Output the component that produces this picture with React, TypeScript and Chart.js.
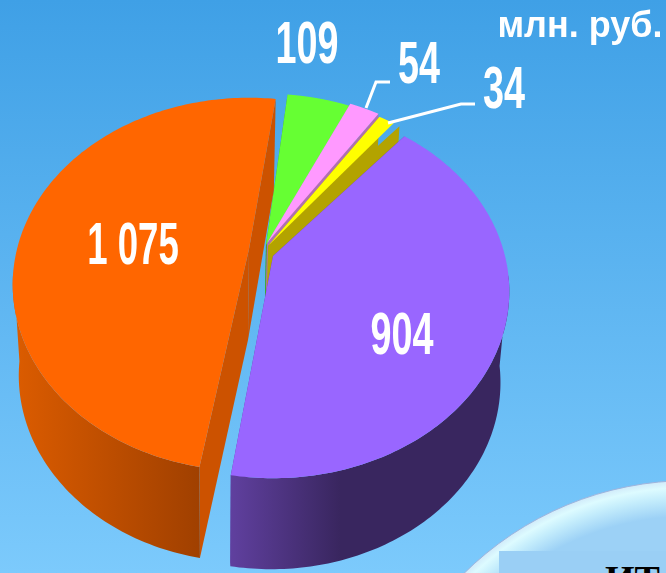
import React, { useEffect, useRef } from "react";
import { Chart, registerables } from "chart.js";

Chart.register(...registerables);

const categories = ["A", "B", "C", "D", "E"];
const values = [1075, 109, 54, 34, 904];
const valueLabels = ["1 075", "109", "54", "34", "904"];
const unitLabel = "млн. руб.";
const totalLabel = "ИТ";

const topColors = ["#FF6600", "#66FF33", "#FF99FF", "#FFFF00", "#9966FF"];
const cutColors = ["#CC5200", "#3FA526", "#B070B0", "#B3A300", "#5F3D9E"];
const rimStops = [
  ["#DC5C00", "#A04000"],
  ["#3FA526", "#3FA526"],
  ["#B070B0", "#B070B0"],
  ["#B3A300", "#B3A300"],
  ["#60409F", "#39265F"],
];
const centers = [
  [249, 249],
  [266, 245],
  [267, 243],
  [268, 246],
  [273, 256],
];
const sideTweak = [[0, 0], [-1.5, -1], [-1, -1], [-1, 0], [0, -1.5]];
const topTweak = [[0, 0], [-1.5, -1], [-1, -1], [-1, -2], [0, -1.5]];
const labelPos = [
  [133, 264],
  [307, 63],
  [419, 83],
  [504, 108],
  [402, 354],
];
const labelScale = [0.62, 0.64, 0.64, 0.64, 0.64];
const R = 232, A = 180, K = 0.19, DEPTH = 91, VX = 215, SHRINK = 0.97;
const RAD = Math.PI / 180;

const project = (c: number[], a: number) => {
  const u = Math.cos(a), v = Math.sin(a), d = 1 - K * v;
  return [c[0] + (R * u) / d, c[1] + (A * v) / d];
};
const lower = (p: number[]) => [VX + (p[0] - VX) * SHRINK, p[1] + DEPTH];

const pie3d = {
  id: "pie3d",
  beforeDatasetDraw(chart: any) {
    const ctx = chart.ctx;
    const arcs = chart.getDatasetMeta(0).data;
    const poly = (pts: number[][], fill: any) => {
      ctx.beginPath();
      pts.forEach((p, i) => (i ? ctx.lineTo(p[0], p[1]) : ctx.moveTo(p[0], p[1])));
      ctx.closePath();
      ctx.fillStyle = fill;
      ctx.fill();
    };
    const angles = (i: number, tw: number[][]) => {
      const a0 = arcs[i].startAngle + tw[i][0] * RAD;
      const a1 = arcs[i].endAngle + tw[i][1] * RAD;
      const out: number[] = [];
      const n = 160;
      for (let s = 0; s <= n; s++) out.push(a0 + ((a1 - a0) * s) / n);
      return out;
    };
    const drawSides = (i: number) => {
      const c = centers[i];
      const as = angles(i, sideTweak);
      const p = as.map((a) => project(c, a));
      const first = p[0], last = p[p.length - 1];
      poly([c, first, lower(first), lower(c)], cutColors[i]);
      poly([c, last, lower(last), lower(c)], cutColors[i]);
      const g = ctx.createLinearGradient(i === 4 ? 230 : 13, 0, i === 4 ? 340 : 200, 0);
      g.addColorStop(0, rimStops[i][0]);
      g.addColorStop(1, rimStops[i][1]);
      const front = p.filter((_, j) => Math.sin(as[j]) > 0.1);
      if (front.length > 1) poly([...front, ...front.slice().reverse().map(lower)], g);
    };
    const drawTop = (i: number) =>
      poly([centers[i], ...angles(i, topTweak).map((a) => project(centers[i], a))], topColors[i]);
    ctx.save();
    [1, 2, 3].forEach(drawSides);
    [1, 2, 3].forEach(drawTop);
    [0, 4].forEach((i) => { drawSides(i); drawTop(i); });
    ctx.restore();
    return false;
  },
  afterDraw(chart: any) {
    const ctx = chart.ctx;
    ctx.save();
    ctx.strokeStyle = "#fff";
    ctx.lineWidth = 3;
    ctx.beginPath();
    ctx.moveTo(366, 108); ctx.lineTo(376, 82); ctx.lineTo(390, 82);
    ctx.moveTo(388, 123); ctx.lineTo(461, 104); ctx.lineTo(475, 104);
    ctx.stroke();
    ctx.fillStyle = "#fff";
    ctx.textAlign = "center";
    ctx.textBaseline = "alphabetic";
    ctx.font = "bold 59px 'Liberation Sans'";
    valueLabels.forEach((t, i) => {
      ctx.save();
      ctx.translate(labelPos[i][0], labelPos[i][1]);
      ctx.scale(labelScale[i], 1);
      ctx.fillText(t, 0, 0);
      ctx.restore();
    });
    ctx.font = "bold 36px 'Liberation Sans'";
    ctx.fillText(unitLabel, 580, 37);
    ctx.restore();
  },
};

export default function App() {
  const ref = useRef<HTMLCanvasElement>(null);
  useEffect(() => {
    document.body.style.margin = "0";
    const chart = new Chart(ref.current!, {
      type: "pie",
      data: {
        labels: categories,
        datasets: [{ data: values, backgroundColor: topColors, borderWidth: 0 }],
      },
      options: {
        animation: false,
        responsive: false,
        rotation: 190,
        plugins: { legend: { display: false }, tooltip: { enabled: false } },
      },
      plugins: [pie3d],
    } as any);
    return () => chart.destroy();
  }, []);
  return (
    <div
      style={{
        position: "fixed", left: 0, top: 0, width: 666, height: 573, overflow: "hidden",
        background: "linear-gradient(180deg,#3FA0E6 0%,#7CCAFC 100%)",
      }}
    >
      <canvas ref={ref} width={666} height={573} style={{ position: "absolute", left: 0, top: 0 }} />
      <div
        style={{
          position: "absolute", left: 368, top: 480, width: 644, height: 644, borderRadius: "50%",
          border: "1px solid #9FB4DC", boxSizing: "border-box",
          background:
            "radial-gradient(circle closest-side,#9CD1F6 0%,#9CD1F6 89%,#C6EEFC 95%,#DDFBFF 98%,#D2ECFA 100%)",
        }}
      />
      <div style={{ position: "absolute", left: 499, top: 551, width: 167, height: 22, background: "#9ACFF5", overflow: "hidden" }}>
        <div style={{ position: "absolute", left: 106, top: 9, font: "bold 38px 'Liberation Serif'", color: "#000", lineHeight: "38px", whiteSpace: "nowrap" }}>
          {totalLabel}
        </div>
      </div>
    </div>
  );
}
